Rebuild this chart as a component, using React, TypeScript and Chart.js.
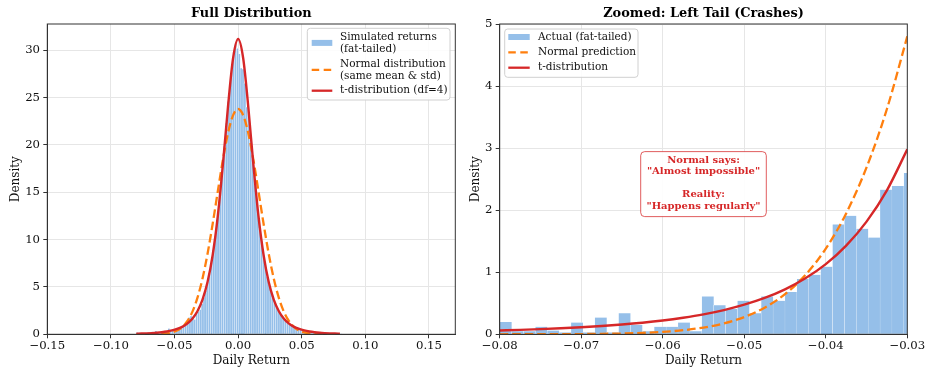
import React, { useEffect, useRef } from "react";
import { Chart, registerables } from "chart.js";

Chart.register(...registerables);

const FONT = "'DejaVu Serif', 'Liberation Serif', serif";
const BAR_COLOR = "#95bfe9";
const ORANGE = "#ff7f0e";
const RED = "#d62728";
const DASH = [8.6, 3.9];

// Histogram bins shared by both panels (bin left edge of first bin, bin width)
const binStart = -0.07999;
const binWidth = 0.001458;
const histDensity = [
  0.2, 0.05, 0.05, 0.12, 0.06, 0.03, 0.19, 0.03, 0.27, 0.03,
  0.34, 0.15, 0.05, 0.12, 0.12, 0.19, 0.05, 0.61, 0.47, 0.41,
  0.54, 0.34, 0.61, 0.54, 0.68, 0.89, 0.96, 1.09, 1.77, 1.91,
  1.7, 1.56, 2.33, 2.39, 2.6,
  3.2, 3.9, 4.6, 5.5, 6.4, 7.5, 8.9, 10.3, 12.1, 13.8,
  15.9, 17.8, 19.9, 22.3, 24.6, 26.4, 28.0, 29.8, 30.7, 30.2,
  29.6, 28.1, 28.0, 26.5, 24.0, 23.4, 21.0, 19.0, 16.8, 15.0,
  13.0, 11.2, 9.9, 8.4, 7.3, 6.1, 5.3, 4.6, 3.9, 3.4,
  2.9, 2.5, 2.2, 1.9, 1.6, 1.4, 1.3, 1.1, 0.95, 0.82,
  0.78, 0.6, 0.55, 0.5, 0.42, 0.38, 0.33, 0.35, 0.25, 0.22,
  0.27, 0.15, 0.2, 0.12, 0.14, 0.08, 0.1, 0.06, 0.08, 0.04,
  0.07, 0.03, 0.05, 0.02, 0.03, 0.04,
];

// Curves for the full panel
const fullCurveX = [
  -0.08, -0.076, -0.072, -0.068, -0.064, -0.06, -0.056, -0.052, -0.048, -0.044,
  -0.04, -0.036, -0.032, -0.028, -0.024, -0.02, -0.016, -0.012, -0.008, -0.004,
  0, 0.004, 0.008, 0.012, 0.016, 0.02, 0.024, 0.028, 0.032, 0.036,
  0.04, 0.044, 0.048, 0.052, 0.056, 0.06, 0.064, 0.068, 0.072, 0.076, 0.08,
];
const tFull = [
  0.062, 0.078, 0.1, 0.129, 0.168, 0.222, 0.298, 0.406, 0.562, 0.79,
  1.13, 1.65, 2.44, 3.66, 5.54, 8.38, 12.47, 17.89, 23.99, 29.14,
  31.2, 29.14, 23.99, 17.89, 12.47, 8.38, 5.54, 3.66, 2.44, 1.65,
  1.13, 0.79, 0.562, 0.406, 0.298, 0.222, 0.168, 0.129, 0.1, 0.078, 0.062,
];
const normalFull = [
  0.0003, 0.0008, 0.0023, 0.0063, 0.0162, 0.039, 0.09, 0.193, 0.394, 0.759,
  1.38, 2.37, 3.85, 5.9, 8.54, 11.68, 15.09, 18.42, 21.24, 23.13,
  23.8, 23.13, 21.24, 18.42, 15.09, 11.68, 8.54, 5.9, 3.85, 2.37,
  1.38, 0.759, 0.394, 0.193, 0.09, 0.039, 0.0162, 0.0063, 0.0023, 0.0008, 0.0003,
];

// Curves for the zoomed tail panel
const tailCurveX = [
  -0.08, -0.0775, -0.075, -0.0725, -0.07, -0.0675, -0.065, -0.0625, -0.06, -0.0575,
  -0.055, -0.0525, -0.05, -0.0475, -0.045, -0.0425, -0.04, -0.0375, -0.035, -0.0325, -0.03,
];
const tTail = [
  0.0616, 0.0713, 0.0828, 0.0965, 0.113, 0.133, 0.157, 0.186, 0.222, 0.267,
  0.321, 0.39, 0.477, 0.586, 0.725, 0.902, 1.13, 1.429, 1.816, 2.32, 2.98,
];
const normalTail = [
  0.0003, 0.0006, 0.0011, 0.0021, 0.0039, 0.0071, 0.0129, 0.0227, 0.039, 0.066,
  0.109, 0.176, 0.278, 0.429, 0.647, 0.956, 1.38, 1.948, 2.689, 3.63, 4.8,
];

const leftXTicks = [-0.15, -0.1, -0.05, 0, 0.05, 0.1, 0.15];
const leftYTicks = [0, 5, 10, 15, 20, 25, 30];
const rightXTicks = [-0.08, -0.07, -0.06, -0.05, -0.04, -0.03];
const rightYTicks = [0, 1, 2, 3, 4, 5];

const leftLegend = [
  { kind: "patch", lines: ["Simulated returns", "(fat-tailed)"] },
  { kind: "dash", lines: ["Normal distribution", "(same mean & std)"] },
  { kind: "line", lines: ["t-distribution (df=4)"] },
];
const rightLegend = [
  { kind: "patch", lines: ["Actual (fat-tailed)"] },
  { kind: "dash", lines: ["Normal prediction"] },
  { kind: "line", lines: ["t-distribution"] },
];
const noteLines = ["Normal says:", "\"Almost impossible\"", "", "Reality:", "\"Happens regularly\""];

const fmtX = (v: number) => (v < -1e-9 ? "\u2212" : "") + Math.abs(v).toFixed(2);

function roundRect(ctx: CanvasRenderingContext2D, x: number, y: number, w: number, h: number, r: number) {
  ctx.beginPath();
  ctx.moveTo(x + r, y);
  ctx.lineTo(x + w - r, y);
  ctx.arcTo(x + w, y, x + w, y + r, r);
  ctx.lineTo(x + w, y + h - r);
  ctx.arcTo(x + w, y + h, x + w - r, y + h, r);
  ctx.lineTo(x + r, y + h);
  ctx.arcTo(x, y + h, x, y + h - r, r);
  ctx.lineTo(x, y + r);
  ctx.arcTo(x, y, x + r, y, r);
  ctx.closePath();
}

function drawLegend(
  ctx: CanvasRenderingContext2D,
  box: { x: number; y: number; w: number; h: number },
  entries: { kind: string; lines: string[] }[],
  rowY: number[],
  hx0: number,
  hx1: number,
  tx: number
) {
  ctx.save();
  roundRect(ctx, box.x, box.y, box.w, box.h, 3);
  ctx.fillStyle = "rgba(255,255,255,0.85)";
  ctx.fill();
  ctx.strokeStyle = "#d0d0d0";
  ctx.lineWidth = 1;
  ctx.stroke();
  const lh = 11.8;
  entries.forEach((e, i) => {
    const y0 = box.y + rowY[i];
    const hy = y0 + ((e.lines.length - 1) * lh) / 2;
    if (e.kind === "patch") {
      ctx.fillStyle = BAR_COLOR;
      ctx.fillRect(box.x + hx0, hy - 3, hx1 - hx0, 6);
    } else {
      ctx.beginPath();
      ctx.strokeStyle = e.kind === "dash" ? ORANGE : RED;
      ctx.lineWidth = 2.3;
      ctx.lineCap = "butt";
      ctx.setLineDash(e.kind === "dash" ? [7.5, 4.5] : []);
      ctx.moveTo(box.x + hx0, hy);
      ctx.lineTo(box.x + hx1, hy);
      ctx.stroke();
      ctx.setLineDash([]);
    }
    ctx.fillStyle = "#111";
    ctx.font = `10.5px ${FONT}`;
    ctx.textAlign = "left";
    ctx.textBaseline = "middle";
    e.lines.forEach((t, j) => ctx.fillText(t, box.x + tx, y0 + j * lh));
  });
  ctx.restore();
}

type Cfg = {
  title: string;
  xMin: number;
  xMax: number;
  yMax: number;
  xTicks: number[];
  yTicks: number[];
  curveX: number[];
  normal: number[];
  t: number[];
  padRight: number;
  yAxisWidth: number;
  yTitlePad: number;
  side: "left" | "right";
};

function buildChart(canvas: HTMLCanvasElement, cfg: Cfg) {
  const bars = histDensity.map((y, i) => ({ x: binStart + binWidth * (i + 0.5), y }));
  const overlay = {
    id: "overlay" + cfg.side,
    afterDraw(chart: any) {
      const ctx: CanvasRenderingContext2D = chart.ctx;
      const a = chart.chartArea;
      ctx.save();
      ctx.strokeStyle = "#333";
      ctx.lineWidth = 1;
      ctx.strokeRect(a.left, a.top, a.right - a.left, a.bottom - a.top);
      ctx.fillStyle = "#000";
      ctx.font = `bold 12.9px ${FONT}`;
      ctx.textAlign = "center";
      ctx.textBaseline = "middle";
      ctx.fillText(cfg.title, (a.left + a.right) / 2, 13.5);
      ctx.restore();
      if (cfg.side === "left") {
        drawLegend(ctx, { x: a.right - 148, y: a.top + 4.3, w: 142.7, h: 71.7 }, leftLegend, [8.7, 35.7, 62.4], 4.4, 25, 32.7);
      } else {
        drawLegend(ctx, { x: a.left + 5, y: a.top + 5, w: 133.3, h: 48.3 }, rightLegend, [8, 23.3, 38.7], 3.6, 25, 33.3);
        const xs = chart.scales.x;
        const ys = chart.scales.y;
        const cx = xs.getPixelForValue(-0.055);
        const cy = ys.getPixelForValue(2.42);
        ctx.save();
        roundRect(ctx, cx - 62.8, cy - 32.5, 125.6, 65, 4);
        ctx.fillStyle = "rgba(255,255,255,0.92)";
        ctx.fill();
        ctx.strokeStyle = "rgba(214,39,40,0.75)";
        ctx.lineWidth = 1;
        ctx.stroke();
        ctx.fillStyle = RED;
        ctx.font = `bold 10px ${FONT}`;
        ctx.textAlign = "center";
        ctx.textBaseline = "middle";
        const offs = [-24.2, -12.5, 0, 10.1, 22.5];
        noteLines.forEach((s, i) => {
          if (s) ctx.fillText(s, cx, cy + offs[i]);
        });
        ctx.restore();
      }
    },
  };

  const tickFont = { family: FONT, size: 11.7 };
  return new Chart(canvas, {
    type: "bar",
    data: {
      datasets: [
        {
          type: "line",
          data: cfg.curveX.map((x, i) => ({ x, y: cfg.t[i] })),
          borderColor: RED,
          borderWidth: 2.4,
          pointRadius: 0,
          cubicInterpolationMode: "monotone",
          fill: false,
          order: 1,
        } as any,
        {
          type: "line",
          data: cfg.curveX.map((x, i) => ({ x, y: cfg.normal[i] })),
          borderColor: ORANGE,
          borderWidth: 2.3,
          borderDash: DASH,
          borderCapStyle: "butt",
          segment: { borderDash: () => DASH },
          pointRadius: 0,
          cubicInterpolationMode: "monotone",
          fill: false,
          order: 2,
        } as any,
        {
          type: "bar",
          data: bars,
          backgroundColor: BAR_COLOR,
          borderColor: "#ffffff",
          borderWidth: { left: 0.35, right: 0.35, top: 0.35, bottom: 0 },
          borderSkipped: "start",
          barPercentage: 1,
          categoryPercentage: 1,
          clip: 0,
          order: 3,
        } as any,
      ],
    },
    options: {
      responsive: false,
      animation: false,
      events: [],
      layout: { padding: { top: 24, right: cfg.padRight, left: 0, bottom: 0 } },
      plugins: { legend: { display: false }, tooltip: { enabled: false }, title: { display: false } },
      scales: {
        x: {
          type: "linear",
          min: cfg.xMin,
          max: cfg.xMax,
          offset: false,
          afterBuildTicks: (s: any) => {
            s.ticks = cfg.xTicks.map((v) => ({ value: v }));
          },
          afterFit: (s: any) => {
            s.height = 33.7;
          },
          ticks: {
            font: tickFont,
            color: "#111",
            padding: 0.7,
            maxRotation: 0,
            autoSkip: false,
            callback: (v: any) => fmtX(Number(v)),
          },
          grid: { color: "#e6e6e6", lineWidth: 1, tickColor: "#333", tickLength: 4, offset: false },
          border: { color: "#333", width: 1 },
          title: { display: true, text: "Daily Return", font: { family: FONT, size: 12 }, color: "#111", padding: { top: 0, bottom: 0 } },
        },
        y: {
          type: "linear",
          min: 0,
          max: cfg.yMax,
          afterBuildTicks: (s: any) => {
            s.ticks = cfg.yTicks.map((v) => ({ value: v }));
          },
          afterFit: (s: any) => {
            s.width = cfg.yAxisWidth;
          },
          ticks: { font: tickFont, color: "#111", padding: 3.3, callback: (v: any) => String(v) },
          grid: { color: "#e6e6e6", lineWidth: 1, tickColor: "#333", tickLength: 4 },
          border: { color: "#333", width: 1 },
          title: { display: true, text: "Density", font: { family: FONT, size: 12 }, color: "#111", padding: { top: cfg.yTitlePad, bottom: 0 } },
        },
      },
    },
    plugins: [overlay as any],
  } as any);
}

export default function App() {
  const leftRef = useRef<HTMLCanvasElement>(null);
  const rightRef = useRef<HTMLCanvasElement>(null);

  useEffect(() => {
    const c1 = buildChart(leftRef.current!, {
      title: "Full Distribution",
      xMin: -0.15,
      xMax: 0.1707,
      yMax: 32.78,
      xTicks: leftXTicks,
      yTicks: leftYTicks,
      curveX: fullCurveX,
      normal: normalFull,
      t: tFull,
      padRight: 8.7,
      yAxisWidth: 47.3,
      yTitlePad: 8.3,
      side: "left",
    });
    const c2 = buildChart(rightRef.current!, {
      title: "Zoomed: Left Tail (Crashes)",
      xMin: -0.08,
      xMax: -0.03,
      yMax: 5,
      xTicks: rightXTicks,
      yTicks: rightYTicks,
      curveX: tailCurveX,
      normal: normalTail,
      t: tTail,
      padRight: 20.7,
      yAxisWidth: 35.7,
      yTitlePad: 4.5,
      side: "right",
    });
    return () => {
      c1.destroy();
      c2.destroy();
    };
  }, []);

  return (
    <div style={{ position: "fixed", left: 0, top: 0, width: 928, height: 368, background: "#fff" }}>
      <canvas ref={leftRef} width={464} height={368} style={{ position: "absolute", left: 0, top: 0, width: 464, height: 368 }} />
      <canvas ref={rightRef} width={464} height={368} style={{ position: "absolute", left: 464, top: 0, width: 464, height: 368 }} />
    </div>
  );
}
